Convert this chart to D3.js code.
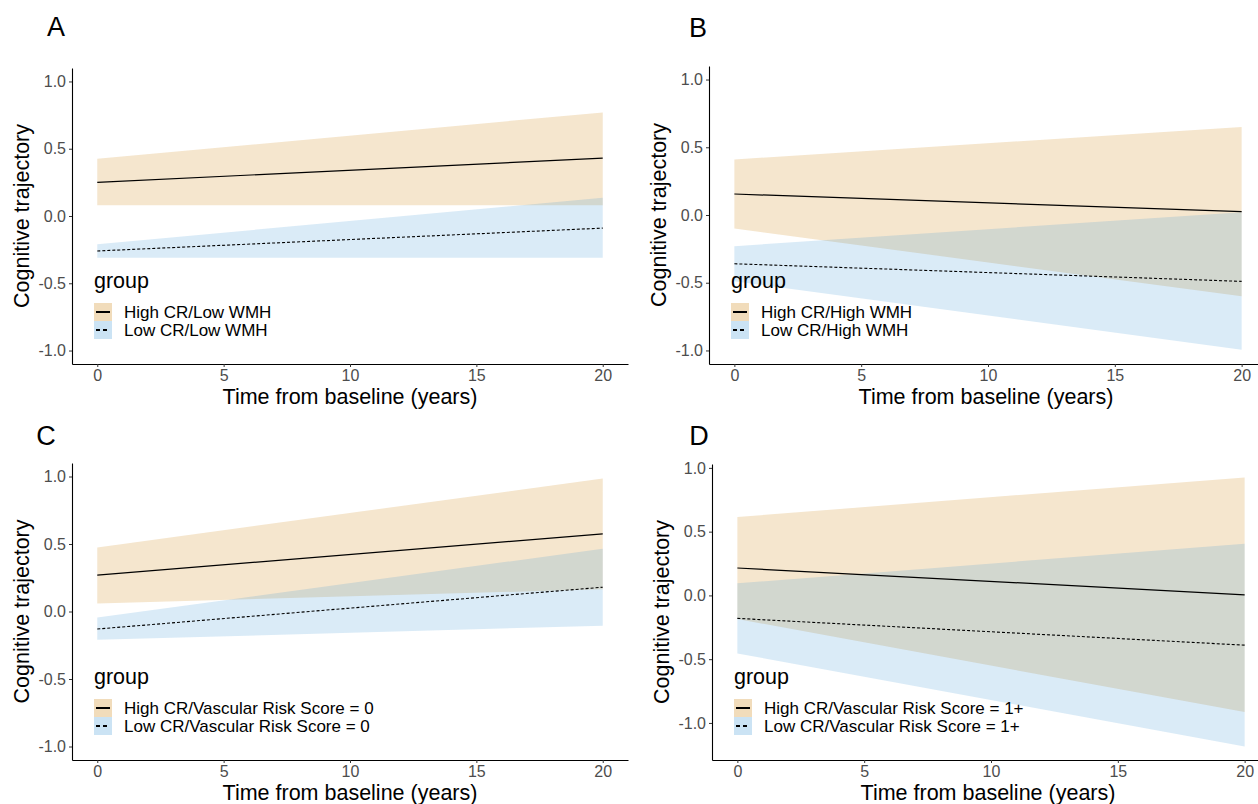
<!DOCTYPE html>
<html>
<head>
<meta charset="utf-8">
<script src="https://cdn.jsdelivr.net/npm/d3@7"></script>
<style>
  body { margin: 0; background: #fff; }
  svg text { font-family: "Liberation Sans", Arial, sans-serif; }
</style>
</head>
<body>
<div id="chart"></div>
<script>
// values (fit line and ribbon ends at year 0 and year 20)
var years = [0, 20];
var xTicks = [0, 5, 10, 15, 20];
var yTicks = [-1.0, -0.5, 0.0, 0.5, 1.0];

var panelLetters = ["A", "B", "C", "D"];
var highLabels = ["High CR/Low WMH", "High CR/High WMH",
                  "High CR/Vascular Risk Score = 0", "High CR/Vascular Risk Score = 1+"];
var lowLabels = ["Low CR/Low WMH", "Low CR/High WMH",
                 "Low CR/Vascular Risk Score = 0", "Low CR/Vascular Risk Score = 1+"];

var highFit   = [[0.25, 0.43],  [0.155, 0.025], [0.27, 0.575],  [0.215, 0.005]];
var highLower = [[0.08, 0.08],  [-0.10, -0.60], [0.06, 0.165],  [-0.185, -0.915]];
var highUpper = [[0.425, 0.77], [0.41, 0.65],   [0.475, 0.985], [0.615, 0.925]];

var lowFit   = [[-0.26, -0.09], [-0.36, -0.49],  [-0.13, 0.18],   [-0.18, -0.39]];
var lowLower = [[-0.31, -0.31], [-0.49, -0.995], [-0.21, -0.105], [-0.455, -1.185]];
var lowUpper = [[-0.21, 0.135], [-0.23, 0.02],   [-0.045, 0.465], [0.095, 0.405]];

var yLimits = [[-1, 1], [-1, 1], [-1, 1], [-1.185, 0.925]];
var xLimits = [0, 20];

// layout of the four panels (pixels)
var frames = [
    {left: 72,  top: 68,  right: 628,  bottom: 364, lx: 56,  ly: 36},
    {left: 709, top: 66,  right: 1267, bottom: 364, lx: 698, ly: 37},
    {left: 72,  top: 463, right: 628,  bottom: 760, lx: 46,  ly: 445},
    {left: 712, top: 464, right: 1270, bottom: 760, lx: 699, ly: 445}
];

var orange = "rgb(205,130,10)";
var blue = "rgb(70,155,215)";
var ribbonOpacity = 0.2;

var svg = d3.select("#chart")
    .append("svg")
    .attr("width", 1258)
    .attr("height", 804);

function expand(lim) {
    var pad = (lim[1] - lim[0]) * 0.05;
    return [lim[0] - pad, lim[1] + pad];
}

panelLetters.forEach(function(letter, p) {
    var f = frames[p];

    var xScale = d3.scaleLinear()
        .domain(expand(xLimits))
        .range([f.left, f.right]);

    var yScale = d3.scaleLinear()
        .domain(expand(yLimits[p]))
        .range([f.bottom, f.top]);

    var g = svg.append("g").attr("class", "panel");

    var area = function(lo, hi) {
        return d3.area()
            .x(function(d, i) { return xScale(years[i]); })
            .y0(function(d, i) { return yScale(lo[i]); })
            .y1(function(d, i) { return yScale(hi[i]); });
    };

    var line = function(fit) {
        return d3.line()
            .x(function(d, i) { return xScale(years[i]); })
            .y(function(d, i) { return yScale(fit[i]); });
    };

    // ribbons
    g.append("path")
        .datum(years)
        .attr("d", area(highLower[p], highUpper[p]))
        .attr("fill", orange)
        .attr("fill-opacity", ribbonOpacity);

    g.append("path")
        .datum(years)
        .attr("d", area(lowLower[p], lowUpper[p]))
        .attr("fill", blue)
        .attr("fill-opacity", ribbonOpacity);

    // fitted lines
    g.append("path")
        .datum(years)
        .attr("d", line(highFit[p]))
        .attr("fill", "none")
        .attr("stroke", "#000")
        .attr("stroke-width", 1.2);

    g.append("path")
        .datum(years)
        .attr("d", line(lowFit[p]))
        .attr("fill", "none")
        .attr("stroke", "#000")
        .attr("stroke-width", 1.1)
        .attr("stroke-dasharray", "3,2");

    // axes
    var xAxis = g.append("g")
        .attr("transform", "translate(0," + f.bottom + ")")
        .call(d3.axisBottom(xScale).tickValues(xTicks).tickSizeInner(3).tickSizeOuter(0).tickPadding(3)
            .tickFormat(function(d) { return d; }));

    var yAxis = g.append("g")
        .attr("transform", "translate(" + f.left + ",0)")
        .call(d3.axisLeft(yScale).tickValues(yTicks).tickSizeInner(3).tickSizeOuter(0).tickPadding(3)
            .tickFormat(function(d) { return d.toFixed(1); }));

    [xAxis, yAxis].forEach(function(ax) {
        ax.select(".domain").attr("stroke", "#000").attr("stroke-width", 1.1);
        ax.selectAll(".tick line").attr("stroke", "#333").attr("stroke-width", 1);
        ax.selectAll(".tick text")
            .attr("fill", "#4d4d4d")
            .style("font-size", "16px")
            .style("font-family", "'Liberation Sans', Arial, sans-serif");
    });

    // axis titles
    g.append("text")
        .attr("x", (f.left + Math.min(f.right, 1258 + 10)) / 2 + (p % 2 == 1 ? -2 : 0))
        .attr("y", f.bottom + 40)
        .attr("text-anchor", "middle")
        .style("font-size", "21.5px")
        .text("Time from baseline (years)");

    g.append("text")
        .attr("transform", "translate(" + (f.left - 43) + "," + ((f.top + f.bottom) / 2) + ") rotate(-90)")
        .attr("text-anchor", "middle")
        .style("font-size", "21.5px")
        .text("Cognitive trajectory");

    // panel letter
    svg.append("text")
        .attr("x", f.lx)
        .attr("y", f.ly)
        .attr("text-anchor", "middle")
        .style("font-size", "27px")
        .text(letter);

    // legend
    var keySize = 18;
    var lg = g.append("g")
        .attr("transform", "translate(" + (f.left + 22) + "," + (f.bottom - 25 - 2 * keySize) + ")");

    lg.append("text")
        .attr("x", 0)
        .attr("y", -15)
        .style("font-size", "21.5px")
        .text("group");

    var keys = [
        {label: highLabels[p], fill: orange, dash: null},
        {label: lowLabels[p], fill: blue, dash: "4,3"}
    ];

    keys.forEach(function(k, i) {
        var ky = i * keySize;
        lg.append("rect")
            .attr("x", 0)
            .attr("y", ky)
            .attr("width", keySize)
            .attr("height", keySize)
            .attr("fill", k.fill)
            .attr("fill-opacity", 0.28);
        lg.append("line")
            .attr("x1", 2)
            .attr("x2", keySize - 2)
            .attr("y1", ky + keySize / 2)
            .attr("y2", ky + keySize / 2)
            .attr("stroke", "#000")
            .attr("stroke-width", 2)
            .attr("stroke-dasharray", k.dash);
        lg.append("text")
            .attr("x", 30)
            .attr("y", ky + keySize / 2 + 6)
            .style("font-size", "17px")
            .text(k.label);
    });
});
</script>
</body>
</html>
